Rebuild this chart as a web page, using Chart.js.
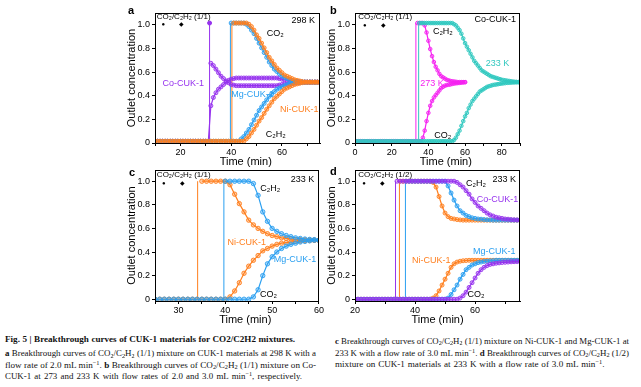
<!DOCTYPE html>
<html>
<head>
<meta charset="utf-8">
<script src="https://cdn.jsdelivr.net/npm/chart.js@4.4.0/dist/chart.umd.min.js"></script>
<style>
  body { margin: 0; width: 641px; height: 387px; background: #fff; position: relative; overflow: hidden;
         font-family: "Liberation Sans", Arial, sans-serif; }
  canvas { position: absolute; }
  .tag { position: absolute; font-weight: bold; font-size: 11px; line-height: 12px; }
  .cap { position: absolute; font-family: "Liberation Serif", serif; font-size: 9.1px; line-height: 11px;
         color: #111; text-align: justify; text-align-last: justify; }
  .cap sub, .cap sup { font-size: 70%; vertical-align: baseline; position: relative; line-height: 0; }
  .cap sub { top: 0.3em; }
  .cap sup { top: -0.45em; }
</style>
</head>
<body>
<canvas id="chartA" width="225" height="170" style="left:100px;top:0px"></canvas>
<canvas id="chartB" width="225" height="170" style="left:300px;top:0px"></canvas>
<canvas id="chartC" width="225" height="180" style="left:100px;top:150px"></canvas>
<canvas id="chartD" width="225" height="180" style="left:300px;top:150px"></canvas>

<div class="tag" style="left:128px;top:4px">a</div>
<div class="tag" style="left:330px;top:4px">b</div>
<div class="tag" style="left:129px;top:166px">c</div>
<div class="tag" style="left:330px;top:165px">d</div>

<div class="cap" style="left:5px;top:334px;width:290px;font-weight:bold">Fig. 5 | Breakthrough curves of CUK-1 materials for CO2/C2H2 mixtures.</div>
<div class="cap" style="left:5px;top:348px;width:311px"><b>a</b> Breakthrough curves of CO<sub>2</sub>/C<sub>2</sub>H<sub>2</sub> (1/1) mixture on CUK-1 materials at 298 K with a</div>
<div class="cap" style="left:5px;top:359.5px;width:311px">flow rate of 2.0 mL min<sup>−1</sup>. <b>b</b> Breakthrough curves of CO<sub>2</sub>/C<sub>2</sub>H<sub>2</sub> (1/1) mixture on Co-</div>
<div class="cap" style="left:5px;top:371px;width:300px;word-spacing:1px;text-align:left;text-align-last:left">CUK-1 at 273 and 233 K with flow rates of 2.0 and 3.0 mL min<sup>−1</sup>, respectively.</div>
<div class="cap" style="left:335px;top:335.5px;width:294px"><b>c</b> Breakthrough curves of CO<sub>2</sub>/C<sub>2</sub>H<sub>2</sub> (1/1) mixture on Ni-CUK-1 and Mg-CUK-1 at</div>
<div class="cap" style="left:335px;top:347.5px;width:294px">233 K with a flow rate of 3.0 mL min<sup>−1</sup>. <b>d</b> Breakthrough curves of CO<sub>2</sub>/C<sub>2</sub>H<sub>2</sub> (1/2)</div>
<div class="cap" style="left:335px;top:359px;width:280px;word-spacing:0.6px;text-align:left;text-align-last:left">mixture on CUK-1 materials at 233 K with a flow rate of 3.0 mL min<sup>−1</sup>.</div>

<script>
// ---- data (outlet concentration C/C0 vs time, min) ----

// a: CUK-1 materials, 298 K, CO2/C2H2 (1/1)
const aTime = [10,11,12,13,14,15,16,17,18,19,20,21,22,23,24,25,26,27,28,29,30,31,32,33,34,35,36,37,38,39,40,41,42,43,44,45,46,47,48,49,50,51,52,53,54,55,56,57,58,59,60,61,62,63,64,65,66,67,68,69,70,71,72,73,74,75];
const aBreak = { co: 31.5, mg: 39.7, ni: 40.3 };
const aNiTop = [null,null,null,null,null,null,null,null,null,null,null,null,null,null,null,null,null,null,null,null,null,null,null,null,null,null,null,null,null,null,null,
  1,1,1,1,1,1,.99,.97,.94,.90,.87,.83,.79,.75,.71,.68,.65,.62,.60,.58,.56,.55,.54,.53,.52,.515,.51,.505,.5,.5,.5,.5,.5,.5,.5];
const aNiBot = [0,0,0,0,0,0,0,0,0,0,0,0,0,0,0,0,0,0,0,0,0,0,0,0,0,0,0,0,0,0,0,0,0,0,0,0,
  .02,.04,.07,.10,.135,.17,.20,.235,.27,.30,.33,.36,.38,.40,.42,.44,.45,.46,.47,.48,.485,.49,.495,.5,.5,.5,.5,.5,.5,.5];
const aMgTop = [null,null,null,null,null,null,null,null,null,null,null,null,null,null,null,null,null,null,null,null,null,null,null,null,null,null,null,null,null,null,
  1,1,1,1,1,1,.99,.97,.94,.91,.87,.83,.79,.75,.71,.67,.64,.61,.59,.57,.55,.54,.53,.52,.515,.51,.505,.5,.5,.5,.5,.5,.5,.5,.5,.5];
const aMgBot = [0,0,0,0,0,0,0,0,0,0,0,0,0,0,0,0,0,0,0,0,0,0,0,0,0,0,0,0,0,0,0,0,0,0,
  .02,.04,.07,.10,.14,.18,.22,.26,.29,.32,.35,.38,.40,.42,.44,.45,.46,.47,.48,.485,.49,.495,.5,.5,.5,.5,.5,.5,.5,.5,.5,.5];
const aCoTop = [null,null,null,null,null,null,null,null,null,null,null,null,null,null,null,null,null,null,null,null,null,null,
  .66,.64,.61,.58,.55,.53,.51,.495,.48,.475,.47,.47,.47,.47,.47,.47,.47,.47,.47,.47,.47,.47,.47,.47,.47,.47,.47,
  .475,.48,.482,.485,.487,.49,.492,.495,.497,.5,.5,.5,.5,.5,.5,.5,.5];
const aCoBot = [0,0,0,0,0,0,0,0,0,0,0,0,0,0,0,0,0,0,0,0,0,0,
  .30,.37,.41,.44,.46,.48,.50,.515,.525,.53,.535,.535,.535,.535,.535,.535,.535,.535,.535,.535,.535,.535,.535,.535,.535,.535,.535,
  .53,.525,.52,.515,.512,.51,.507,.505,.502,.5,.5,.5,.5,.5,.5,.5,.5];

// b: Co-CUK-1 at 273 K and 233 K
const bTime = [0,1,2,3,4,5,6,7,8,9,10,11,12,13,14,15,16,17,18,19,20,21,22,23,24,25,26,27,28,29,30,31,32,33,34,35,36,37,38,39,40,41,42,43,44,45,46,47,48,49,50,51,52,53,54,55,56,57,58,59,60,61,62,63,64,65,66,67,68,69,70,71,72,73,74,75,76,77,78,79,80,81,82,83,84,85,86,87,88,89,90];
const bBreak = { k273: 33.2, k233: 34.7 };
const b273Top = [null,null,null,null,null,null,null,null,null,null,null,null,null,null,null,null,null,null,null,null,null,null,null,null,null,null,null,null,null,null,null,null,null,null,
  1,1,1,1,.98,.92,.85,.78,.72,.67,.63,.60,.57,.55,.54,.53,.52,.515,.51,.507,.505,.503,.5,.5,.5,.5,.5,
  null,null,null,null,null,null,null,null,null,null,null,null,null,null,null,null,null,null,null,null,null,null,null,null,null,null,null,null,null,null];
const b273Bot = [0,0,0,0,0,0,0,0,0,0,0,0,0,0,0,0,0,0,0,0,0,0,0,0,0,0,0,0,0,0,0,0,0,0,0,0,0,
  .03,.09,.17,.24,.30,.34,.37,.39,.41,.43,.45,.46,.47,.475,.478,.48,.485,.488,.49,.492,.494,.496,.498,.5,
  null,null,null,null,null,null,null,null,null,null,null,null,null,null,null,null,null,null,null,null,null,null,null,null,null,null,null,null,null,null];
const b233Top = [null,null,null,null,null,null,null,null,null,null,null,null,null,null,null,null,null,null,null,null,null,null,null,null,null,null,null,null,null,null,null,null,null,null,null,
  1,1,1,1,1,1,1,1,1,1,1,1,1,1,1,1,1,1,1,
  .99,.98,.96,.94,.91,.87,.83,.80,.77,.74,.71,.68,.66,.64,.62,.60,.59,.58,.57,.56,.55,.545,.54,.535,.53,.525,.52,.517,.515,.512,.51,.507,.505,.503,.502,.5,.5];
const b233Bot = [0,0,0,0,0,0,0,0,0,0,0,0,0,0,0,0,0,0,0,0,0,0,0,0,0,0,0,0,0,0,0,0,0,0,0,0,0,0,0,0,0,0,0,0,0,0,0,0,0,0,0,0,0,0,
  .01,.03,.06,.09,.13,.17,.21,.24,.28,.31,.34,.36,.38,.40,.42,.43,.44,.45,.46,.465,.47,.475,.478,.48,.483,.486,.488,.49,.492,.494,.495,.496,.497,.498,.499,.5,.5];

// c: Ni-CUK-1 and Mg-CUK-1, 233 K, (1/1)
const cTime = [25,26,27,28,29,30,31,32,33,34,35,36,37,38,39,40,41,42,43,44,45,46,47,48,49,50,51,52,53,54,55,56,57,58,59,60];
const cBreak = { ni: 34.1, mg: 39.7 };
const cMgTop = [null,null,null,null,null,null,null,null,null,null,null,null,null,null,null,
  1,1,1,1,1,1,.98,.88,.74,.66,.60,.575,.555,.54,.53,.52,.515,.51,.507,.505,.5];
const cMgBot = [0,0,0,0,0,0,0,0,0,0,0,0,0,0,0,0,0,0,0,0,0,
  .02,.08,.20,.30,.36,.40,.43,.45,.465,.475,.485,.49,.495,.5,.5];
const cNiTop = [null,null,null,null,null,null,null,null,null,null,
  1,1,1,1,1,1,.97,.89,.81,.74,.67,.63,.60,.575,.555,.54,.53,.52,.515,.51,.507,.505,.503,.502,.5,.5];
const cNiBot = [0,0,0,0,0,0,0,0,0,0,0,0,0,0,0,0,
  .02,.07,.14,.22,.28,.33,.37,.41,.43,.45,.465,.475,.48,.485,.49,.493,.495,.497,.5,.5];

// d: CUK-1 materials, 233 K, (1/2)
const dTime = [20,21,22,23,24,25,26,27,28,29,30,31,32,33,34,35,36,37,38,39,40,41,42,43,44,45,46,47,48,49,50,51,52,53,54,55,56,57,58,59,60,61,62,63,64,65,66,67,68,69,70,71,72,73,74,75];
const dBreak = { co: 33.5, ni: 34.8, mg: 36.8 };
const dCoTop = [null,null,null,null,null,null,null,null,null,null,null,null,null,null,
  1,1,1,1,1,1,1,1,1,1,1,1,1,1,1,1,1,1,1,1,
  .99,.97,.95,.92,.89,.85,.82,.79,.77,.75,.73,.715,.705,.695,.69,.685,.68,.678,.675,.673,.672,.67];
const dCoBot = [0,0,0,0,0,0,0,0,0,0,0,0,0,0,0,0,0,0,0,0,0,0,0,0,0,0,0,0,0,0,0,0,0,0,0,
  .01,.03,.06,.10,.14,.18,.22,.25,.27,.285,.295,.30,.305,.308,.311,.313,.315,.317,.318,.319,.32];
const dMgTop = [null,null,null,null,null,null,null,null,null,null,null,null,null,null,null,null,null,
  1,1,1,1,1,1,1,1,1,1,1,1,1,1,
  .96,.90,.84,.79,.75,.73,.71,.70,.69,.685,.68,.678,.675,.673,.672,.67,.67,.67,.67,.67,.67,.67,.67,.67,.67];
const dMgBot = [0,0,0,0,0,0,0,0,0,0,0,0,0,0,0,0,0,0,0,0,0,0,0,0,0,0,0,0,0,0,0,
  .01,.04,.08,.12,.17,.21,.25,.27,.29,.30,.31,.315,.32,.322,.325,.327,.33,.33,.33,.33,.33,.33,.33,.33,.33];
const dNiTop = [null,null,null,null,null,null,null,null,null,null,null,null,null,null,null,
  1,1,1,1,1,1,1,1,1,1,1,
  .99,.95,.87,.79,.73,.70,.685,.68,.675,.672,.67,.67,.67,.67,.67,.67,.67,.67,.67,.67,.67,.67,.67,.67,.67,.67,.67,.67,.67,.67];
const dNiBot = [0,0,0,0,0,0,0,0,0,0,0,0,0,0,0,0,0,0,0,0,0,0,0,0,0,0,
  .01,.03,.07,.12,.17,.22,.27,.30,.315,.322,.326,.328,.33,.33,.33,.33,.33,.33,.33,.33,.33,.33,.33,.33,.33,.33,.33,.33,.33,.33];

// ---- colours ----
const CO = '#9632ee', MG = '#2a9ff0', NI = '#ff7f1e', K273 = '#f522f0', K233 = '#30c8bf';

// ---- in-plot labels (data coordinates) ----
const aNotes = [
  { x: 10.7, y: 1.055, text: 'CO₂/C₂H₂ (1/1)', align: 'left', size: 8 },
  { x: 13.25, y: 0.989, text: '●', size: 6 }, { x: 20.45, y: 0.989, text: '◆', size: 6 },
  { x: 68.4, y: 1.025, text: '298 K' },
  { x: 57.4, y: 0.913, text: 'CO₂' }, { x: 57.6, y: 0.061, text: 'C₂H₂' },
  { x: 21.1, y: 0.49, text: 'Co-CUK-1', color: CO },
  { x: 48.4, y: 0.397, text: 'Mg-CUK-1', color: MG },
  { x: 66.8, y: 0.27, text: 'Ni-CUK-1', color: NI }
];
const bNotes = [
  { x: 1.8, y: 1.053, text: 'CO₂/C₂H₂ (1/1)', align: 'left', size: 8 },
  { x: 5.4, y: 0.983, text: '●', size: 6 }, { x: 15.3, y: 0.983, text: '◆', size: 6 },
  { x: 76.4, y: 1.031, text: 'Co-CUK-1' },
  { x: 47.9, y: 0.926, text: 'C₂H₂' }, { x: 47.9, y: 0.052, text: 'CO₂' },
  { x: 42.0, y: 0.49, text: '273 K', color: K273 },
  { x: 77.7, y: 0.659, text: '233 K', color: K233 }
];
const cNotes = [
  { x: 25.4, y: 1.052, text: 'CO₂/C₂H₂ (1/1)', align: 'left', size: 8 },
  { x: 26.9, y: 0.982, text: '●', size: 6 }, { x: 30.8, y: 0.982, text: '◆', size: 6 },
  { x: 56.5, y: 1.016, text: '233 K' },
  { x: 49.6, y: 0.94, text: 'C₂H₂' }, { x: 49.2, y: 0.044, text: 'CO₂' },
  { x: 44.6, y: 0.479, text: 'Ni-CUK-1', color: NI },
  { x: 54.9, y: 0.338, text: 'Mg-CUK-1', color: MG }
];
const dNotes = [
  { x: 21.1, y: 1.052, text: 'CO₂/C₂H₂ (1/2)', align: 'left', size: 8 },
  { x: 23.0, y: 0.982, text: '●', size: 6 }, { x: 29.2, y: 0.982, text: '◆', size: 6 },
  { x: 60.3, y: 0.982, text: 'C₂H₂' }, { x: 69.7, y: 1.016, text: '233 K' },
  { x: 67.5, y: 0.847, text: 'Co-CUK-1', color: CO },
  { x: 66.4, y: 0.403, text: 'Mg-CUK-1', color: MG },
  { x: 45.4, y: 0.332, text: 'Ni-CUK-1', color: NI },
  { x: 60.3, y: 0.036, text: 'CO₂' }
];

const FONT = '"Liberation Sans", Arial, sans-serif';
Chart.defaults.font.family = FONT;
Chart.defaults.color = '#000';

function fade(hex, a) {
  const n = parseInt(hex.slice(1), 16);
  return 'rgba(' + (n >> 16) + ',' + ((n >> 8) & 255) + ',' + (n & 255) + ',' + a + ')';
}

function curve(times, values, color, r) {
  return {
    data: times.map((t, i) => ({ x: t, y: values[i] })).filter(p => p.y !== null),
    borderColor: color,
    borderWidth: 1.2,
    pointRadius: r,
    pointBorderWidth: 0.9,
    pointBorderColor: color,
    pointBackgroundColor: fade(color, 0.35)
  };
}

function jump(t, color, topDot) {
  return {
    data: [{ x: t, y: 0 }, { x: t, y: 1 }],
    borderColor: color,
    borderWidth: 1,
    pointRadius: [0, topDot ? 2 : 0],
    pointBackgroundColor: color,
    pointBorderColor: color
  };
}

const notesPlugin = {
  id: 'notes',
  afterDatasetsDraw(chart, args, opts) {
    const { ctx, scales: { x, y }, chartArea: c } = chart;
    ctx.save();
    // frame round the plot
    ctx.strokeStyle = '#000';
    ctx.lineWidth = 1;
    ctx.strokeRect(Math.round(c.left) + 0.5, Math.round(c.top) + 0.5,
      Math.round(c.right - c.left) - 1, Math.round(c.bottom - c.top));
    (opts.items || []).forEach(n => {
      ctx.font = (n.size || 9) + 'px ' + FONT;
      ctx.fillStyle = n.color || '#000';
      ctx.textAlign = n.align || 'center';
      ctx.textBaseline = 'middle';
      ctx.fillText(n.text, x.getPixelForValue(n.x), y.getPixelForValue(n.y));
    });
    ctx.restore();
  }
};

function makeChart(id, p) {
  return new Chart(document.getElementById(id), {
    type: 'line',
    data: { datasets: p.datasets },
    plugins: [notesPlugin],
    options: {
      responsive: false,
      animation: false,
      layout: { padding: { top: p.top, right: 4, left: 0, bottom: 0 } },
      plugins: { legend: { display: false }, tooltip: { enabled: false }, notes: { items: p.notes } },
      scales: {
        x: {
          type: 'linear', min: p.xMin, max: p.xMax,
          grid: { drawOnChartArea: false, tickLength: 3, color: '#000' },
          border: { color: '#000' },
          ticks: {
            stepSize: p.xStep, includeBounds: false, autoSkip: false, maxRotation: 0, padding: 1,
            font: { size: 9 },
            callback: v => (v % p.xEvery === 0 ? String(v) : '')
          },
          title: { display: true, text: p.xTitle, font: { size: 11 }, padding: { top: 0, bottom: p.titlePad } },
          afterFit: s => { s.height = p.axisH; }
        },
        y: {
          min: -0.015, max: p.yMax,
          grid: { drawOnChartArea: false, tickLength: 3, color: '#000' },
          border: { color: '#000' },
          ticks: {
            stepSize: 0.1, includeBounds: false, padding: 2, font: { size: 9 },
            callback: v => { const k = Math.round(v * 10); return k % 2 ? '' : (k === 0 ? '0' : (k / 10).toFixed(1)); }
          },
          title: { display: true, text: 'Outlet concentration', font: { size: 11 }, padding: { top: 25.4, bottom: 0 } },
          afterFit: s => { s.width = 55; }
        }
      }
    }
  });
}

// the x titles in a, b and c sit a little right of the plot centre
const shifted = '\u2002\u2002\u2002Time (min)';

makeChart('chartA', {
  xMin: 10, xMax: 75, xStep: 10, xEvery: 20, yMax: 1.085, top: 13, axisH: 27, titlePad: 1.4, notes: aNotes, xTitle: shifted,
  datasets: [
    curve(aTime, aNiTop, NI, 2), curve(aTime, aNiBot, NI, 2),
    curve(aTime, aMgTop, MG, 2), curve(aTime, aMgBot, MG, 2),
    curve(aTime, aCoTop, CO, 2), curve(aTime, aCoBot, CO, 2),
    jump(aBreak.ni, NI), jump(aBreak.mg, MG), jump(aBreak.co, CO, true)
  ]
});

makeChart('chartB', {
  xMin: 0, xMax: 90, xStep: 10, xEvery: 20, yMax: 1.085, top: 13, axisH: 27, titlePad: 1.4, notes: bNotes, xTitle: shifted,
  datasets: [
    curve(bTime, b233Top, K233, 1.8), curve(bTime, b233Bot, K233, 1.8),
    curve(bTime, b273Top, K273, 1.8), curve(bTime, b273Bot, K273, 1.8),
    jump(bBreak.k233, K233), jump(bBreak.k273, K273)
  ]
});

makeChart('chartC', {
  xMin: 25, xMax: 60, xStep: 5, xEvery: 10, yMax: 1.095, top: 20, axisH: 29, titlePad: 3.4, notes: cNotes, xTitle: shifted,
  datasets: [
    curve(cTime, cMgTop, MG, 2.2), curve(cTime, cMgBot, MG, 2.2),
    curve(cTime, cNiTop, NI, 2.2), curve(cTime, cNiBot, NI, 2.2),
    jump(cBreak.mg, MG), jump(cBreak.ni, NI)
  ]
});

makeChart('chartD', {
  xMin: 20, xMax: 75, xStep: 10, xEvery: 20, yMax: 1.095, top: 20, axisH: 29, titlePad: 3.4, notes: dNotes, xTitle: 'Time (min)',
  datasets: [
    curve(dTime, dCoTop, CO, 2), curve(dTime, dCoBot, CO, 2),
    curve(dTime, dMgTop, MG, 2), curve(dTime, dMgBot, MG, 2),
    curve(dTime, dNiTop, NI, 2), curve(dTime, dNiBot, NI, 2),
    jump(dBreak.mg, MG), jump(dBreak.ni, NI), jump(dBreak.co, CO)
  ]
});

// each caption line must stay on one line: shrink the font a little if it wraps
document.querySelectorAll('.cap').forEach(el => {
  let size = 9.1;
  while (el.offsetHeight > 14 && size > 7) {
    size -= 0.1;
    el.style.fontSize = size + 'px';
  }
});
</script>
</body>
</html>
